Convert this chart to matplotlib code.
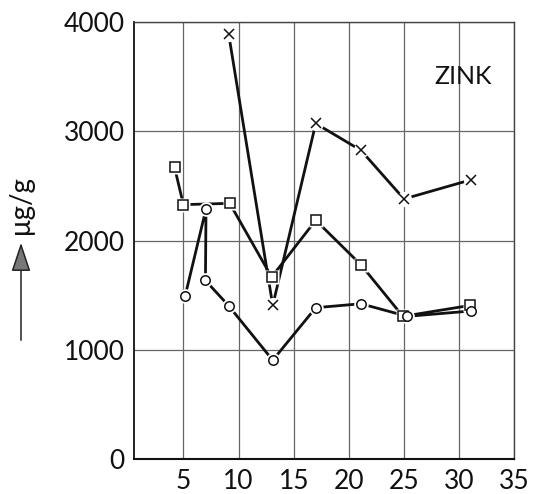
import matplotlib
matplotlib.use("Agg")
import matplotlib.pyplot as plt

# Data
cross_x = [9.1, 13.1, 17.0, 21.1, 25.0, 31.1]
cross_y = [3890, 1407, 3070, 2824, 2380, 2556]

square_x = [4.2, 5.0, 9.2, 13.0, 17.0, 21.1, 24.9, 31.0]
square_y = [2669, 2328, 2340, 1666, 2185, 1778, 1307, 1407]

circle_x = [5.15, 7.05, 7.0, 9.1, 13.1, 17.0, 21.1, 25.3, 31.1]
circle_y = [1489, 2289, 1635, 1404, 906, 1386, 1422, 1307, 1356]

x_ticks = [5, 10, 15, 20, 25, 30, 35]
y_ticks = [0, 1000, 2000, 3000, 4000]
panel_title = "ZINK"
y_label = "μg/g"

plt.rcParams['font.family'] = ['Lato', 'DejaVu Sans']
plt.rcParams['font.weight'] = 'normal'

fig = plt.figure(figsize=(5.34, 4.94), dpi=100)
ax = fig.add_axes([0.2515, 0.0702, 0.7116, 0.8858])

ax.set_xlim(0.55, 35)
ax.set_ylim(0, 4000)
ax.set_xticks(x_ticks)
ax.set_yticks(y_ticks)
ax.set_xticklabels([str(v) for v in x_ticks], fontsize=19)
ax.set_yticklabels([str(v) for v in y_ticks], fontsize=19)
ax.tick_params(length=0, pad=7, colors='#111')
ax.grid(True, color='#666666', linewidth=0.9)
ax.set_axisbelow(True)
for s in ax.spines.values():
    s.set_color('#444444')
    s.set_linewidth(1.0)
ax.spines['bottom'].set_linewidth(1.5)
ax.spines['bottom'].set_color('#111')
ax.spines['left'].set_linewidth(1.3)
ax.spines['left'].set_color('#111')

lw = 2.0
# lines
ax.plot(cross_x, cross_y, color='#111', lw=lw, zorder=2)
ax.plot(square_x, square_y, color='#111', lw=lw, zorder=2)
ax.plot(circle_x, circle_y, color='#111', lw=lw, zorder=2)

# white halos for gaps around markers
ax.plot(cross_x, cross_y, ls='none', marker='o', ms=11, mfc='white', mec='none', zorder=3)
ax.plot(square_x, square_y, ls='none', marker='s', ms=10.5, mfc='white', mec='none', zorder=3)
ax.plot(circle_x, circle_y, ls='none', marker='o', ms=10.5, mfc='white', mec='none', zorder=3)

# markers
ax.plot(cross_x, cross_y, ls='none', marker='x', ms=6.5, mec='#111', mew=1.1, zorder=4)
ax.plot(square_x, square_y, ls='none', marker='s', ms=7.2, mfc='white', mec='#111', mew=1.1, zorder=4)
ax.plot(circle_x, circle_y, ls='none', marker='o', ms=6.8, mfc='white', mec='#111', mew=1.1, zorder=4)

ax.text(30.4, 3500, panel_title, fontsize=18, ha='center', va='center', color='#111', zorder=5)

# y label with arrow
fig.text(21 / 534, 1 - 205 / 494, y_label, rotation=90, fontsize=20,
         ha='center', va='center', color='#111')
fig.patches.append(matplotlib.patches.FancyArrowPatch(
    (21 / 534, 1 - 343 / 494), (21 / 534, 1 - 240 / 494),
    transform=fig.transFigure, arrowstyle='-|>,head_length=0.9,head_width=0.3',
    mutation_scale=20, edgecolor='#222', lw=1.1, facecolor='#777'))

fig.savefig("out.png", dpi=100)
